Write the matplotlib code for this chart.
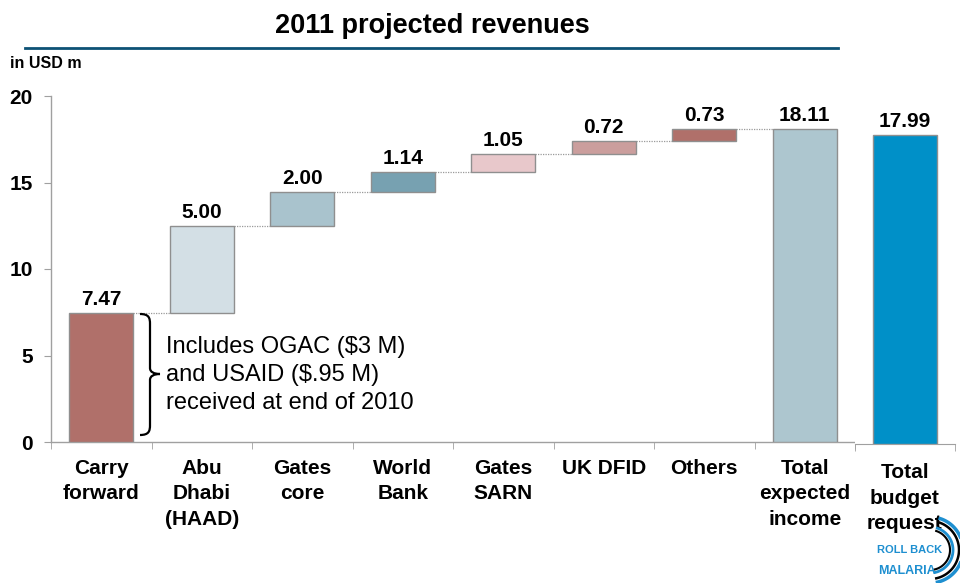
import numpy as np
import matplotlib
matplotlib.use('Agg')
import matplotlib.pyplot as plt
from matplotlib.path import Path
from matplotlib.patches import PathPatch
from matplotlib.lines import Line2D

plt.rcParams['font.family'] = ['Liberation Sans', 'DejaVu Sans']

# ---- data ----
categories = ['Carry\nforward', 'Abu\nDhabi\n(HAAD)', 'Gates\ncore', 'World\nBank',
              'Gates\nSARN', 'UK DFID', 'Others', 'Total\nexpected\nincome']
increments = [7.47, 5.00, 2.00, 1.14, 1.05, 0.72, 0.73]
total_income = 18.11
budget_category = 'Total\nbudget\nrequest'
budget_value = 17.99
yticks = [0, 5, 10, 15, 20]

colors = ['#B0706A', '#D3DFE5', '#A9C3CD', '#77A1B1', '#E8C8CB', '#CB9E9D', '#B0706A', '#ADC6CF']
budget_color = '#0090C8'
edge = '#8F8F8F'
axis_col = '#A0A0A0'

W, H = 960, 583
fig = plt.figure(figsize=(9.6, 5.83), dpi=100)


def fx(px):
    return px / W


def fy(py):
    return 1 - py / H


# ---- main waterfall axes ----
ax = fig.add_axes([fx(51), fy(442), (855 - 51) / W, 346 / H])
heights = np.array(increments + [total_income])
bottoms = np.concatenate([[0], np.cumsum(increments)[:-1], [0]])
tops = bottoms + heights
x = np.arange(len(categories))
bw = 0.64
ax.bar(x, heights, bottom=bottoms, width=bw, color=colors, edgecolor=edge, linewidth=1, zorder=3)
for i in range(len(categories) - 1):
    ax.plot([x[i] + bw / 2, x[i + 1] - bw / 2], [tops[i], tops[i]],
            color='#9A9A9A', lw=0.9, ls=(0, (1, 1)), zorder=2)
for xi, t, h in zip(x, tops, heights):
    ax.annotate(f'{h:.2f}', (xi, t), xytext=(0, 3), textcoords='offset points',
                ha='center', va='bottom', fontsize=15, fontweight='bold')

ax.set_xlim(-0.5, len(categories) - 0.5)
ax.set_ylim(0, 20)
for s in ['top', 'right']:
    ax.spines[s].set_visible(False)
for s in ['left', 'bottom']:
    ax.spines[s].set_color(axis_col)
    ax.spines[s].set_linewidth(1)
ax.set_yticks(yticks)
ax.set_yticklabels([str(v) for v in yticks], fontsize=15, fontweight='bold')
ax.tick_params(axis='y', length=5, color=axis_col, pad=8)
ax.set_xticks(x)
ax.set_xticklabels(categories, fontsize=15, fontweight='bold')
ax.tick_params(axis='x', which='major', length=0, pad=12)
ax.set_xticks(np.arange(-0.5, len(categories), 1), minor=True)
ax.tick_params(axis='x', which='minor', length=5, color=axis_col)
for lab in ax.get_xticklabels():
    lab.set_linespacing(1.45)

# ---- budget axes (separate, slightly different scale) ----
ax2 = fig.add_axes([fx(855), fy(443.5), 100 / W, 343 / H])
ax2.bar([0], [budget_value], width=bw * 0.985, color=budget_color, edgecolor=edge, linewidth=1, zorder=3)
ax2.annotate(f'{budget_value:.2f}', (0, budget_value), xytext=(0, 3), textcoords='offset points',
             ha='center', va='bottom', fontsize=15, fontweight='bold')
ax2.set_xlim(-0.5, 0.5)
ax2.set_ylim(0, 20)
for s in ['top', 'right', 'left']:
    ax2.spines[s].set_visible(False)
ax2.spines['bottom'].set_color(axis_col)
ax2.set_yticks([])
ax2.set_xticks([0])
ax2.set_xticklabels([budget_category], fontsize=15, fontweight='bold')
ax2.tick_params(axis='x', which='major', length=0, pad=14)
ax2.set_xticks([-0.5, 0.5], minor=True)
ax2.tick_params(axis='x', which='minor', length=5, color=axis_col)
for lab in ax2.get_xticklabels():
    lab.set_linespacing(1.45)

# ---- title and header ----
fig.text(fx(432), fy(26), '2011 projected revenues', ha='center', va='center',
         fontsize=19.5, fontweight='bold')
fig.add_artist(Line2D([fx(25), fx(838)], [fy(48), fy(48)], color='#0D5275', lw=2))
fig.text(fx(10), fy(64), 'in USD m', ha='left', va='center', fontsize=11.5, fontweight='bold')

# ---- brace annotation ----
bx0, bx1, tip = 140, 150, 160
yt, ym, yb = 314, 374, 435
verts = [(bx0, yt), (bx1 - 1, yt), (bx1, yt + 4), (bx1, yt + 10),
         (bx1, ym - 6),
         (bx1, ym - 2), (bx1 + 4, ym), (tip, ym),
         (bx1 + 4, ym), (bx1, ym + 2), (bx1, ym + 6),
         (bx1, yb - 10),
         (bx1, yb - 4), (bx1 - 1, yb), (bx0, yb)]
codes = [Path.MOVETO, Path.CURVE4, Path.CURVE4, Path.CURVE4,
         Path.LINETO,
         Path.CURVE4, Path.CURVE4, Path.CURVE4,
         Path.CURVE4, Path.CURVE4, Path.CURVE4,
         Path.LINETO,
         Path.CURVE4, Path.CURVE4, Path.CURVE4]
fverts = [(fx(a), fy(b)) for a, b in verts]
fig.add_artist(PathPatch(Path(fverts, codes), transform=fig.transFigure,
                         fill=False, edgecolor='black', lw=1.6))
fig.text(fx(166), fy(375), 'Includes OGAC ($3 M)\nand USAID ($.95 M)\nreceived at end of 2010',
         ha='left', va='center', fontsize=17, linespacing=1.36)

# ---- logo ----
lax = fig.add_axes([fx(860), 0, 100 / W, 83 / H])
lax.set_xlim(0, 100)
lax.set_ylim(83, 0)
lax.axis('off')
th = np.linspace(np.radians(-80), np.radians(75), 100)
for r, c, lw in [(33, '#1E8FD0', 2.5), (29, 'black', 1.8), (23, '#1E8FD0', 2.0), (20, 'black', 1.5)]:
    lax.plot(70 + r * np.cos(th), 50 - r * np.sin(th), color=c, lw=lw, solid_capstyle='butt', zorder=1)
lax.text(50, 50, 'ROLL BACK', ha='center', va='center', fontsize=8, fontweight='bold',
         color='#1E8FD0', zorder=2)
lax.text(47, 71, 'MALARIA', ha='center', va='center', fontsize=9, fontweight='bold',
         color='#1E8FD0', zorder=2)

fig.savefig('out.png', dpi=100)
